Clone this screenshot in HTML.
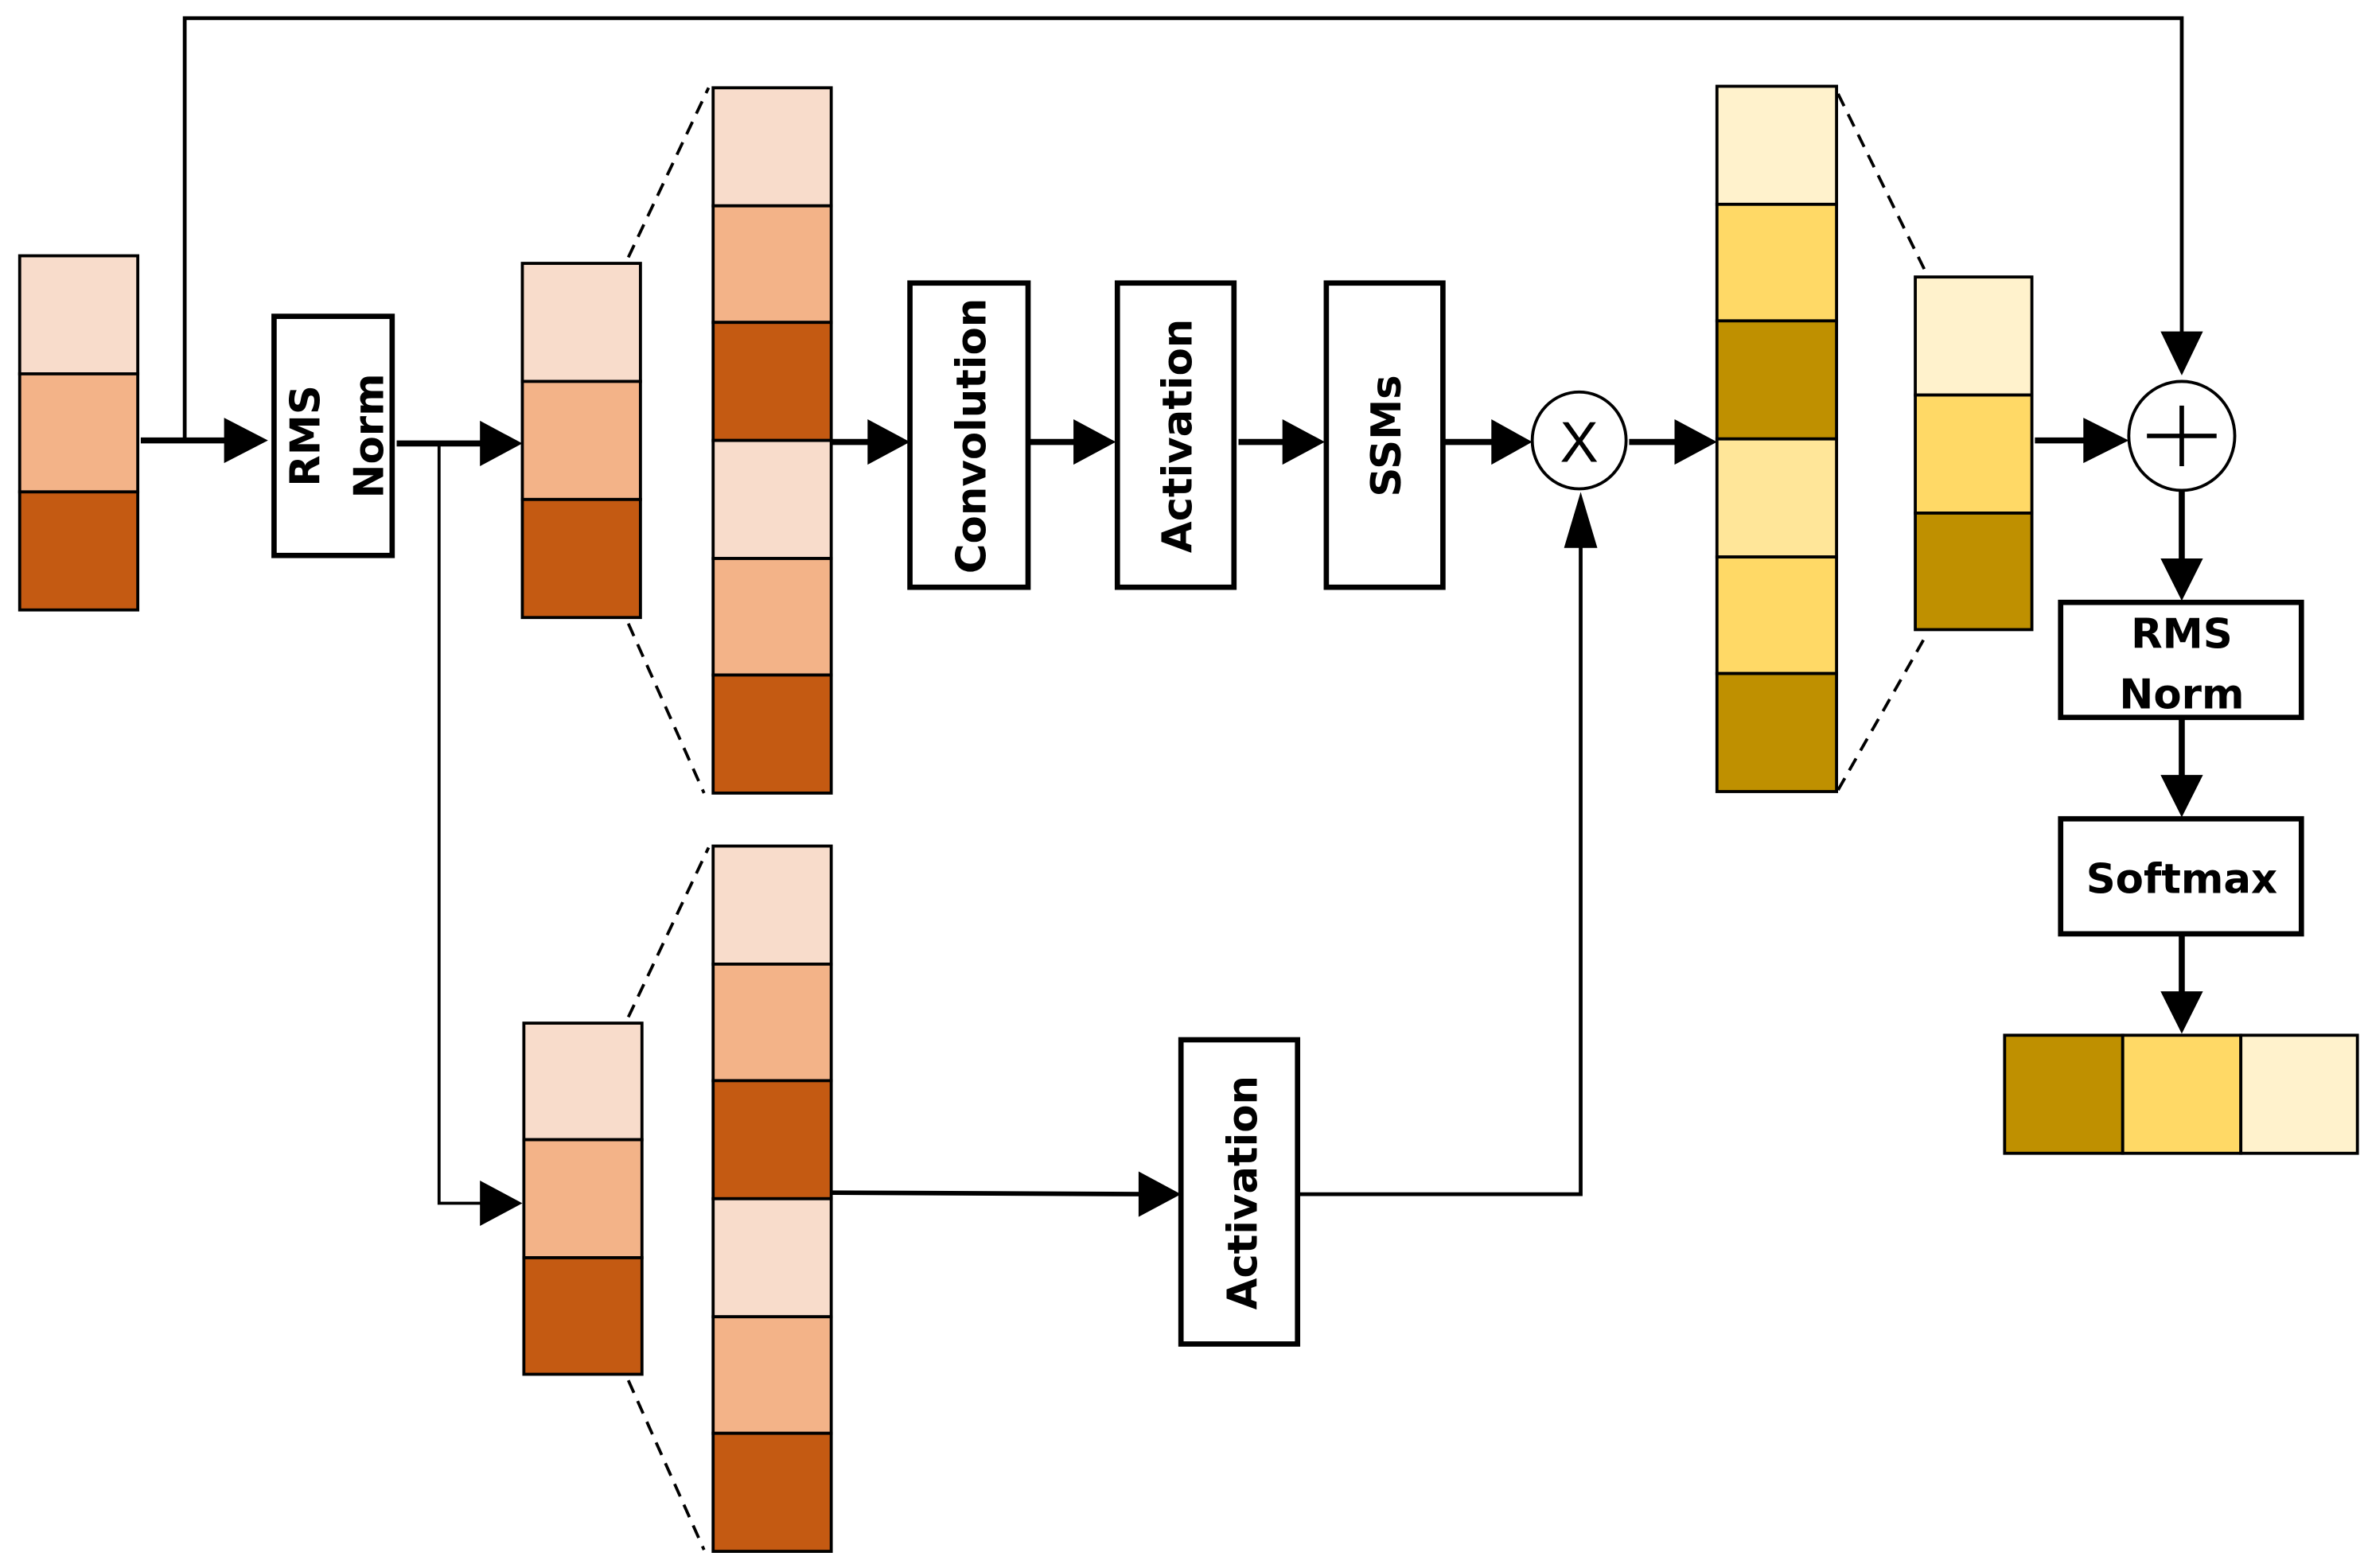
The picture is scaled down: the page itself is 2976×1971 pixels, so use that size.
<!DOCTYPE html>
<html><head><meta charset="utf-8"><style>
html,body{margin:0;padding:0;background:#fff;}
svg{display:block;}
text{font-family:"DejaVu Sans","Liberation Sans",sans-serif;font-weight:bold;font-size:27px;fill:#000;}
</style></head><body>
<svg width="2976" height="1971" viewBox="0 0 1564 1036" preserveAspectRatio="none" xmlns="http://www.w3.org/2000/svg">
<g stroke="#000" stroke-width="2">
<rect x="13" y="169" width="78" height="78" fill="#F8DCCB"/>
<rect x="13" y="247" width="78" height="78" fill="#F3B388"/>
<rect x="13" y="325" width="78" height="78" fill="#C45A12"/>
<rect x="345" y="174" width="78" height="78" fill="#F8DCCB"/>
<rect x="345" y="252" width="78" height="78" fill="#F3B388"/>
<rect x="345" y="330" width="78" height="78" fill="#C45A12"/>
<rect x="471" y="58" width="78" height="78" fill="#F8DCCB"/>
<rect x="471" y="136" width="78" height="77" fill="#F3B388"/>
<rect x="471" y="213" width="78" height="78" fill="#C45A12"/>
<rect x="471" y="291" width="78" height="78" fill="#F8DCCB"/>
<rect x="471" y="369" width="78" height="77" fill="#F3B388"/>
<rect x="471" y="446" width="78" height="78" fill="#C45A12"/>
<rect x="346" y="676" width="78" height="77" fill="#F8DCCB"/>
<rect x="346" y="753" width="78" height="78" fill="#F3B388"/>
<rect x="346" y="831" width="78" height="77" fill="#C45A12"/>
<rect x="471" y="559" width="78" height="78" fill="#F8DCCB"/>
<rect x="471" y="637" width="78" height="77" fill="#F3B388"/>
<rect x="471" y="714" width="78" height="78" fill="#C45A12"/>
<rect x="471" y="792" width="78" height="78" fill="#F8DCCB"/>
<rect x="471" y="870" width="78" height="77" fill="#F3B388"/>
<rect x="471" y="947" width="78" height="78" fill="#C45A12"/>
<rect x="1134" y="57" width="79" height="78" fill="#FFF2CC"/>
<rect x="1134" y="135" width="79" height="77" fill="#FFD966"/>
<rect x="1134" y="212" width="79" height="78" fill="#BF9000"/>
<rect x="1134" y="290" width="79" height="78" fill="#FFE699"/>
<rect x="1134" y="368" width="79" height="77" fill="#FFD966"/>
<rect x="1134" y="445" width="79" height="78" fill="#BF9000"/>
<rect x="1265" y="183" width="77" height="78" fill="#FFF2CC"/>
<rect x="1265" y="261" width="77" height="78" fill="#FFD966"/>
<rect x="1265" y="339" width="77" height="77" fill="#BF9000"/>
<rect x="1324" y="684" width="78" height="78" fill="#BF9000"/>
<rect x="1402" y="684" width="78" height="78" fill="#FFD966"/>
<rect x="1480" y="684" width="77" height="78" fill="#FFF2CC"/>
</g>
<g stroke="#000" stroke-width="2" stroke-dasharray="9,6" fill="none">
<line x1="415" y1="170" x2="468" y2="58"/>
<line x1="415" y1="412" x2="465" y2="524"/>
<line x1="415" y1="672" x2="468" y2="560"/>
<line x1="415" y1="912" x2="465" y2="1024"/>
<line x1="1214" y1="62" x2="1272" y2="180"/>
<line x1="1214" y1="522" x2="1272" y2="420"/>
</g>
<g stroke="#000" stroke-width="3.5" fill="#fff">
<rect x="181" y="209" width="78" height="158"/>
<rect x="601" y="187" width="78" height="201"/>
<rect x="738" y="187" width="77" height="201"/>
<rect x="876" y="187" width="77" height="201"/>
<rect x="780" y="687" width="77" height="201"/>
<rect x="1361" y="398" width="159" height="76"/>
<rect x="1361" y="541" width="159" height="76"/>
</g>
<g stroke="#000" stroke-width="2" fill="#fff">
<ellipse cx="1043" cy="291" rx="31" ry="32"/>
<ellipse cx="1441" cy="288" rx="35" ry="36"/>
</g>
<text x="1043" y="305" text-anchor="middle" style="font-weight:normal;font-size:38px;font-family:'Liberation Sans',sans-serif">X</text>
<g stroke="#000" stroke-width="3"><line x1="1418" y1="288" x2="1464" y2="288"/><line x1="1441" y1="268" x2="1441" y2="308"/></g>
<g stroke="#000" fill="none">
<polyline points="122,291 122,12 1441,12 1441,222" stroke-width="2.5"/>
<line x1="93" y1="291" x2="152" y2="291" stroke-width="4"/>
<line x1="262" y1="293" x2="320" y2="293" stroke-width="4"/>
<polyline points="290,293 290,795 320,795" stroke-width="2"/>
<line x1="549" y1="292" x2="576" y2="292" stroke-width="4"/>
<line x1="680" y1="292" x2="712" y2="292" stroke-width="4"/>
<line x1="818" y1="292" x2="850" y2="292" stroke-width="4"/>
<line x1="953" y1="292" x2="988" y2="292" stroke-width="4"/>
<line x1="1076" y1="292" x2="1110" y2="292" stroke-width="4"/>
<line x1="1344" y1="291" x2="1380" y2="291" stroke-width="4"/>
<line x1="1441" y1="324" x2="1441" y2="372" stroke-width="4"/>
<line x1="1441" y1="475" x2="1441" y2="515" stroke-width="4"/>
<line x1="1441" y1="618" x2="1441" y2="658" stroke-width="4"/>
<line x1="549" y1="788" x2="756" y2="789" stroke-width="3"/>
<polyline points="858,789 1044,789 1044,352" stroke-width="2.5"/>
</g>
<g fill="#000">
<polygon points="148,276 177,291 148,306"/>
<polygon points="317,278 345,293 317,308"/>
<polygon points="317,780 345,795 317,810"/>
<polygon points="573,277 601,292 573,307"/>
<polygon points="709,277 737,292 709,307"/>
<polygon points="847,277 875,292 847,307"/>
<polygon points="985,277 1012,292 985,307"/>
<polygon points="1106,277 1134,292 1106,307"/>
<polygon points="1376,276 1406,291 1376,306"/>
<polygon points="1427,219 1455,219 1441,248"/>
<polygon points="1427,369 1455,369 1441,397"/>
<polygon points="1427,512 1455,512 1441,540"/>
<polygon points="1427,655 1455,655 1441,683"/>
<polygon points="752,774 780,789 752,804"/>
<polygon points="1033,362 1055,362 1044,325"/>
</g>
<text transform="translate(211,288) rotate(-90)" text-anchor="middle">RMS</text>
<text transform="translate(253,288) rotate(-90)" text-anchor="middle">Norm</text>
<text transform="translate(651,288) rotate(-90)" text-anchor="middle">Convolution</text>
<text transform="translate(787,288) rotate(-90)" text-anchor="middle">Activation</text>
<text transform="translate(925,288) rotate(-90)" text-anchor="middle">SSMs</text>
<text transform="translate(830,788) rotate(-90)" text-anchor="middle">Activation</text>
<text x="1441" y="428" text-anchor="middle">RMS</text>
<text x="1441" y="468" text-anchor="middle">Norm</text>
<text x="1441" y="590" text-anchor="middle">Softmax</text>
</svg>
</body></html>
